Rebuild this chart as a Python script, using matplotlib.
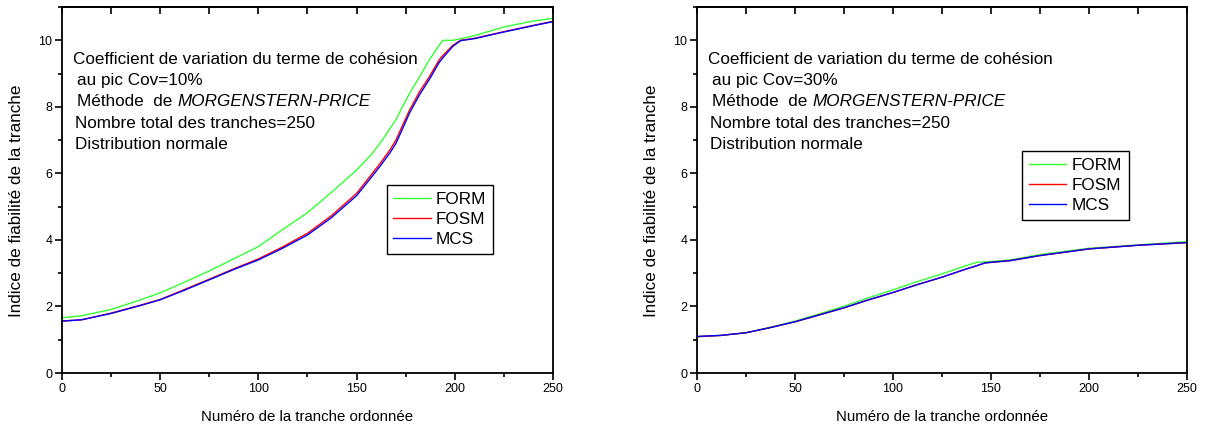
import matplotlib
matplotlib.use("Agg")
import matplotlib.pyplot as plt
from matplotlib.ticker import MultipleLocator

plt.rcParams['font.family'] = ['Liberation Sans', 'DejaVu Sans']

# left chart: Cov = 10%
x_left = [0, 10, 25, 40, 50, 62, 75, 87, 100, 112, 125, 137, 150, 158, 162,
          167, 170, 172, 177, 182, 187, 192, 194, 199, 203, 210, 225, 240, 250]
form_left = [1.66, 1.72, 1.91, 2.20, 2.41, 2.72, 3.07, 3.42, 3.80, 4.30, 4.82,
             5.42, 6.10, 6.60, 6.91, 7.35, 7.61, 7.85, 8.41, 8.90, 9.41, 9.85,
             10.0, 10.0, 10.05, 10.14, 10.40, 10.58, 10.66]
fosm_left = [1.56, 1.60, 1.80, 2.04, 2.21, 2.50, 2.82, 3.12, 3.43, 3.78, 4.20,
             4.72, 5.40, 6.00, 6.30, 6.71, 7.00, 7.26, 7.91, 8.45, 8.90, 9.41,
             9.55, 9.85, 10.0, 10.06, 10.26, 10.45, 10.57]
mcs_left = [1.56, 1.60, 1.79, 2.03, 2.20, 2.48, 2.80, 3.10, 3.40, 3.74, 4.15,
            4.66, 5.33, 5.92, 6.22, 6.62, 6.90, 7.16, 7.82, 8.36, 8.82, 9.33,
            9.48, 9.82, 9.99, 10.05, 10.25, 10.44, 10.56]

# right chart: Cov = 30%
x_right = [0, 12, 25, 37, 50, 62, 75, 87, 100, 112, 125, 137, 143, 147, 160,
           175, 200, 225, 250]
form_right = [1.09, 1.13, 1.21, 1.37, 1.56, 1.77, 2.01, 2.25, 2.50, 2.74, 2.98,
              3.22, 3.33, 3.34, 3.40, 3.56, 3.75, 3.85, 3.95]
fosm_right = [1.09, 1.13, 1.21, 1.36, 1.54, 1.74, 1.96, 2.19, 2.42, 2.65, 2.88,
              3.12, 3.23, 3.31, 3.38, 3.53, 3.73, 3.84, 3.92]
mcs_right = [1.10, 1.13, 1.21, 1.36, 1.54, 1.74, 1.96, 2.19, 2.42, 2.65, 2.88,
             3.12, 3.23, 3.31, 3.38, 3.53, 3.73, 3.84, 3.92]

labels = ["FORM", "FOSM", "MCS"]
colors = ["#33ff33", "#ff0000", "#0000ff"]


def draw(ax, x, series, cov, leg_pos):
    for y, lab, c in zip(series, labels, colors):
        ax.plot(x, y, color=c, lw=1.0, label=lab)
    ax.set_xlim(0, 250)
    ax.set_ylim(0, 11)
    ax.xaxis.set_major_locator(MultipleLocator(50))
    ax.xaxis.set_minor_locator(MultipleLocator(25))
    ax.yaxis.set_major_locator(MultipleLocator(2))
    ax.yaxis.set_minor_locator(MultipleLocator(1))
    ax.tick_params(which='major', direction='out', length=5, width=1.2,
                   labelsize=9, pad=2)
    ax.tick_params(which='minor', direction='out', length=3, width=1.2)
    for s in ax.spines.values():
        s.set_linewidth(1.3)
    top = ax.secondary_xaxis('top')
    top.xaxis.set_major_locator(MultipleLocator(25))
    top.tick_params(direction='in', length=5, width=1.2, labeltop=False)
    top.spines['top'].set_linewidth(1.3)

    ax.set_xlabel("Numéro de la tranche ordonnée", fontsize=10.8, labelpad=11)
    ax.set_ylabel("Indice de fiabilité de la tranche", fontsize=12.3)
    ax.yaxis.set_label_coords(-0.078, 0.47)

    fs = 12.3
    ax.text(5.6, 9.41, "Coefficient de variation du terme de cohésion",
            fontsize=fs, va='center')
    ax.text(7.6, 8.78, "au pic Cov=%d%%" % cov, fontsize=fs, va='center')
    t = ax.text(7.6, 8.15, "Méthode  de ", fontsize=fs, va='center')
    ax.annotate("MORGENSTERN-PRICE", xy=(1, 0.5), xycoords=t, fontsize=fs,
                style='italic', va='center', ha='left')
    ax.text(6.6, 7.49, "Nombre total des tranches=250", fontsize=fs, va='center')
    ax.text(6.6, 6.86, "Distribution normale", fontsize=fs, va='center')

    leg = ax.legend(loc='upper left', bbox_to_anchor=leg_pos, borderaxespad=0,
                    fontsize=fs, handlelength=2.2, labelspacing=0.3,
                    handletextpad=0.3, borderpad=0.4, fancybox=False,
                    framealpha=1)
    leg.get_frame().set_edgecolor('black')
    leg.get_frame().set_linewidth(1.0)


fig = plt.figure(figsize=(12.08, 4.29), dpi=100)
ax1 = fig.add_axes([0.0513, 0.1305, 0.4065, 0.8531])
ax2 = fig.add_axes([0.577, 0.1305, 0.4056, 0.8531])

draw(ax1, x_left, [form_left, fosm_left, mcs_left], 10, (0.661, 0.513))
draw(ax2, x_right, [form_right, fosm_right, mcs_right], 30, (0.663, 0.607))

fig.savefig("out.png", dpi=100)
